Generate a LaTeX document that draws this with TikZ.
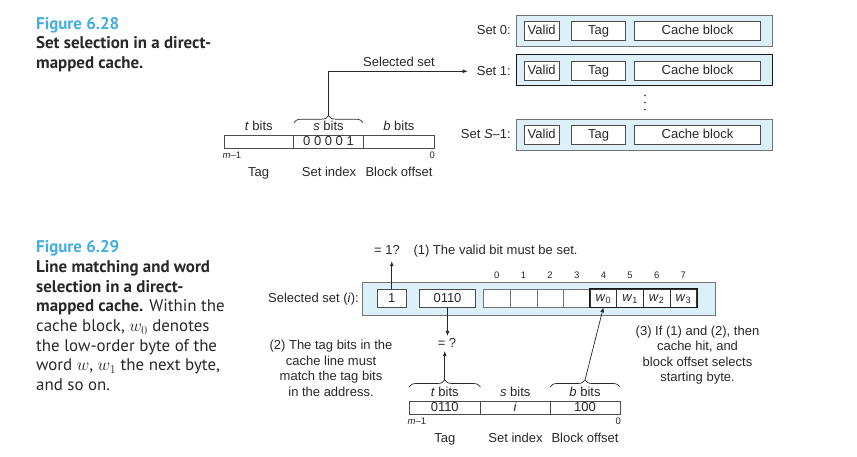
\documentclass[tikz,border=0pt]{standalone}
\usepackage{fontspec}
\setmainfont{Liberation Sans}
\newfontfamily\capfont{PT Sans}
\usetikzlibrary{decorations.pathreplacing,arrows.meta}
\definecolor{figblue}{RGB}{65,173,227}
\definecolor{setfill}{RGB}{220,240,250}
\definecolor{ink}{RGB}{40,40,40}
\begin{document}
\begin{tikzpicture}[x=1pt,y=-1pt,
  txt/.style={font=\fontsize{13}{15}\selectfont, inner sep=0pt, text height=9.5pt, text depth=1.2pt, text=ink},
  para/.style={font=\fontsize{13}{15.5}\selectfont, inner sep=0pt, align=center, text=ink},
  sml/.style={font=\fontsize{9.5}{10}\selectfont, inner sep=0pt, text=ink},
  captxt/.style={font=\capfont\fontsize{16.9}{19}\selectfont, anchor=base west, inner sep=0pt, text=ink},
  capbold/.style={font=\capfont\bfseries\fontsize{16.9}{19}\selectfont, anchor=base west, inner sep=0pt, text=ink},
  setbox/.style={draw=black!55, fill=setfill, line width=0.8pt, minimum width=256pt, minimum height=31pt, inner sep=0pt},
  cell/.style={draw=black!70, fill=white, line width=0.7pt, inner sep=0pt, minimum height=19pt, text height=9.5pt, text depth=1.2pt, font=\fontsize{13}{15}\selectfont, text=ink},
  acell/.style={draw=black!70, line width=0.7pt, inner sep=0pt, minimum height=13.3pt, text height=9.5pt, text depth=1.2pt, font=\fontsize{13}{15}\selectfont, text=ink},
  bcell/.style={draw=black!55, fill=white, line width=0.6pt, inner sep=0pt, minimum width=26.65pt, minimum height=18pt, text height=9.5pt, text depth=2.5pt, font=\fontsize{13}{15}\selectfont, text=ink},
  arr/.style={-{Latex[length=5pt,width=4pt]}, line width=0.7pt, draw=ink},
  brc/.style={decorate, decoration={brace, amplitude=7pt}, line width=0.7pt, draw=ink}
]
\useasboundingbox (0,0) rectangle (857,457);

% ---------------- Figure 6.28 caption
\node[capbold, text=figblue] (f28) at (36,29.5) {Figure 6.28};
\node[capbold] (c28a) at (36,49) {Set selection in a direct-};
\node[capbold] (c28b) at (36,68.5) {mapped cache.};

% sets
\node[setbox] (s0) at (644,30.5) {};
\node[setbox, draw=black!90, line width=1pt] (s1) at (644,70.5) {};
\node[setbox] (s2) at (644,134.5) {};
\foreach \r/\y in {0/30.5,1/70.5,2/134.5}{
  \node[cell, minimum width=35pt] (v\r) at (541.7,\y) {Valid};
  \node[cell, minimum width=54pt] (t\r) at (598.7,\y) {Tag};
  \node[cell, minimum width=126.4pt] (b\r) at (697.5,\y) {Cache block};
}
\node[txt, anchor=east] (l0) at (511,30.5) {Set 0:};
\node[txt, anchor=east] (l1) at (511,71.3) {Set 1:};
\node[txt, anchor=east] (l2) at (511,134.5) {Set \textit{S}--1:};
\foreach \y in {95.5,102.5,109.5}{\fill[ink] (645,\y) circle (0.8pt);}

% address
\node[acell, minimum width=69.3pt] (ta) at (258.7,141.7) {};
\node[acell, minimum width=70.4pt] (sa) at (328.5,141.7) {0 0 0 0 1};
\node[acell, minimum width=70.3pt] (ba) at (398.9,141.7) {};
\node[txt] (tl) at (258.7,126.7) {\textit{t} bits};
\node[txt] (sl) at (328.5,126.7) {\textit{s} bits};
\node[txt] (bl) at (398.9,126.7) {\textit{b} bits};
\node[sml, anchor=west] (m1) at (222.5,155.5) {\textit{m}--1};
\node[sml, anchor=east] (z1) at (435,155.5) {0};
\node[txt] (tagA) at (258.7,172.3) {Tag};
\node[txt] (siA) at (329,172.3) {Set index};
\node[txt] (boA) at (399,172.3) {Block offset};
\draw[brc] (294,122.7) -- (363,122.7);
\coordinate (sbt) at (328.5,115.7);
\draw[arr] (sbt) |- ([xshift=-9pt]l1.west);
\node[txt] (selset) at (399,62.3) {Selected set};

% ---------------- Figure 6.29 caption
\node[capbold, text=figblue] (f29) at (36,252.7) {Figure 6.29};
\node[capbold] (c29a) at (36,272.5) {Line matching and word};
\node[capbold] (c29b) at (36,292.2) {selection in a direct-};
\node[captxt] (c29c) at (36,312) {\textbf{mapped cache.} Within the};
\node[captxt] (c29d) at (36,331.5) {cache block, $w_0$ denotes};
\node[captxt] (c29e) at (36,351) {the low-order byte of the};
\node[captxt] (c29f) at (36,370.5) {word $w$, $w_1$ the next byte,};
\node[captxt] (c29g) at (36,390) {and so on.};

% selected set
\node[draw=black!55, fill=setfill, line width=0.8pt, minimum width=353pt, minimum height=33.5pt, inner sep=0pt] (sel) at (538.5,298.75) {};
\node[txt, anchor=east] (sellbl) at (359,298.5) {Selected set (\textit{i}):};
\node[cell, minimum width=28.5pt, minimum height=18pt] (c1) at (391.75,298) {1};
\node[cell, minimum width=56pt, minimum height=18pt] (ctag) at (447.5,298) {0110};
\foreach \k in {0,...,3}{
  \node[bcell] (by\k) at ({483.5+26.65*(\k+0.5)},298) {};
}
\foreach \k/\lab in {4/0,5/1,6/2,7/3}{
  \node[bcell, draw=black!80, line width=0.7pt] (by\k) at ({483.5+26.65*(\k+0.5)},298) {\textit{w}\textsubscript{\lab}};
}
\draw[black!90, line width=1pt] (by4.north west) rectangle (by7.south east);
\foreach \k in {0,...,7}{
  \node[sml] (n\k) at ({483.5+26.65*(\k+0.5)},275) {\k};
}

\node[txt] (eq1) at (387,250.7) {= 1?};
\node[txt, anchor=west] (v1) at (413.3,250.7) {(1) The valid bit must be set.};
\draw[arr, shorten >=5pt] (c1.north) -- (c1.north |- eq1.south);

\node[txt] (eq2) at (447,343.5) {= ?};
\draw[arr, shorten >=2pt] (ctag.south) -- (ctag.south |- eq2.north);

\node[para] (p2) at (331,368.5) {(2) The tag bits in the\\cache line must\\match the tag bits\\in the address.};
\node[para] (p3) at (697.5,355) {(3) If (1) and (2), then\\cache hit, and\\block offset selects\\starting byte.};

% bottom address
\node[acell, minimum width=71.5pt] (ta2) at (444.75,407.5) {0110};
\node[acell, minimum width=69.5pt] (sa2) at (515.25,407.5) {\textit{i}};
\node[acell, minimum width=70pt] (ba2) at (585,407.5) {100};
\node[txt] (tl2) at (444.75,392.7) {\textit{t} bits};
\node[txt] (sl2) at (515.25,392.7) {\textit{s} bits};
\node[txt] (bl2) at (585,392.7) {\textit{b} bits};
\node[sml, anchor=west] (m2) at (407.5,421.5) {\textit{m}--1};
\node[sml, anchor=east] (z2) at (621,421.5) {0};
\node[txt] (tagB) at (444.75,438.3) {Tag};
\node[txt] (siB) at (515.5,438.3) {Set index};
\node[txt] (boB) at (585,438.3) {Block offset};
\draw[brc] (409,387) -- (480.5,387);
\draw[brc] (550,387) -- (620,387);
\coordinate (tbt) at (444.75,380);
\coordinate (bbt) at (585,380);
\draw[arr, shorten >=2pt] (tbt) -- (tbt |- eq2.south);
\draw[arr] (bbt) -- (by4.south);
\end{tikzpicture}
\end{document}
